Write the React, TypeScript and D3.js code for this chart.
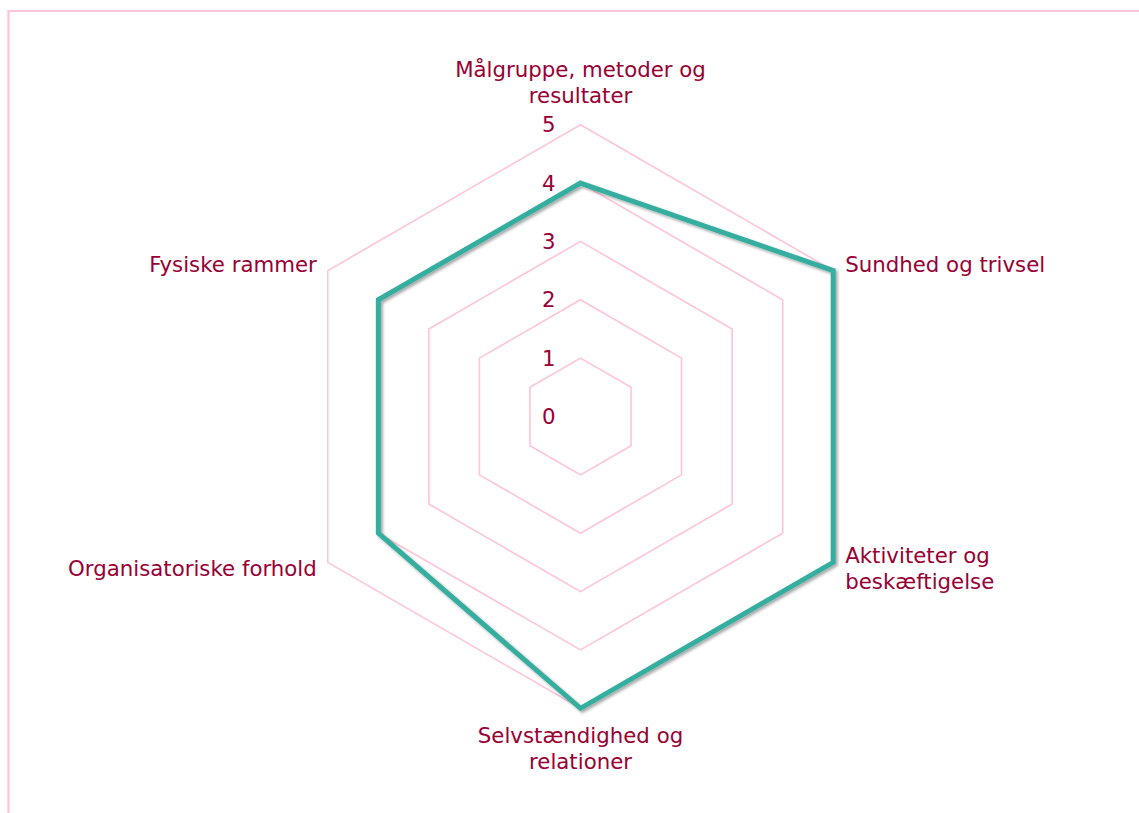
import React, { useEffect, useRef } from 'react';
import * as d3 from 'd3';

const categories = [
  ['Målgruppe, metoder og', 'resultater'],
  ['Sundhed og trivsel'],
  ['Aktiviteter og', 'beskæftigelse'],
  ['Selvstændighed og', 'relationer'],
  ['Organisatoriske forhold'],
  ['Fysiske rammer'],
];
const scores = [4, 5, 5, 5, 4, 4];
const levels = [1, 2, 3, 4, 5];
const tickLabels = [0, 1, 2, 3, 4, 5];

const RadarChart = () => {
  const ref = useRef(null);

  useEffect(() => {
    const svg = d3.select(ref.current);
    svg.selectAll('*').remove();

    const cx = 580.5, cy = 416.5, maxR = 291.8;
    const n = categories.length;
    const r = d3.scaleLinear().domain([0, 5]).range([0, maxR]);
    const ang = (i) => (i * 2 * Math.PI) / n;
    const textColor = '#990033';
    const font = '"DejaVu Sans", sans-serif';
    const fs = 21.3;

    // frame
    svg.append('path')
      .attr('d', 'M8.5,813 L8.5,11 L1139,11')
      .attr('fill', 'none')
      .attr('stroke', '#ffc4d6')
      .attr('stroke-width', 2.2);

    const defs = svg.append('defs');
    defs.append('filter').attr('id', 'shadow')
      .attr('x', '-10%').attr('y', '-10%').attr('width', '120%').attr('height', '120%')
      .append('feDropShadow')
      .attr('dx', 2).attr('dy', 2).attr('stdDeviation', 1.8)
      .attr('flood-color', '#000').attr('flood-opacity', 0.35);

    const g = svg.append('g').attr('transform', `translate(${cx},${cy})`);

    const radial = d3.lineRadial()
      .angle((d, i) => ang(i))
      .radius((d) => r(d))
      .curve(d3.curveLinearClosed);

    // grid hexagons
    levels.forEach((lv) => {
      g.append('path')
        .attr('d', radial(d3.range(n).map(() => lv)))
        .attr('fill', 'none')
        .attr('stroke', '#ffc4d6')
        .attr('stroke-width', 1.6);
    });

    // tick labels
    tickLabels.forEach((t) => {
      g.append('text')
        .attr('x', -25)
        .attr('y', -r(t))
        .attr('dy', '0.36em')
        .attr('text-anchor', 'end')
        .attr('fill', textColor)
        .attr('font-family', font)
        .attr('font-size', fs)
        .text(t);
    });

    // data polygon
    g.append('path')
      .attr('d', radial(scores))
      .attr('fill', 'none')
      .attr('stroke', '#35ae9f')
      .attr('stroke-width', 5)
      .attr('stroke-linejoin', 'miter')
      .attr('filter', 'url(#shadow)');

    // category labels
    const lh = 26;
    categories.forEach((lines, i) => {
      const a = ang(i);
      const vx = maxR * Math.sin(a);
      const vy = -maxR * Math.cos(a);
      const t = g.append('text')
        .attr('fill', textColor)
        .attr('font-family', font)
        .attr('font-size', fs);
      let x = vx, y0;
      if (Math.abs(Math.sin(a)) < 0.01) {
        t.attr('text-anchor', 'middle');
        if (Math.cos(a) > 0) y0 = vy - 22 - (lines.length - 1) * lh;
        else y0 = vy + 35;
      } else {
        const right = Math.sin(a) > 0;
        t.attr('text-anchor', right ? 'start' : 'end');
        x = vx + (right ? 12 : -11);
        const mid = vy + (Math.cos(a) > 0 ? -6 : 7);
        y0 = mid - ((lines.length - 1) * lh) / 2 + 7;
      }
      lines.forEach((ln, k) => {
        t.append('tspan').attr('x', x).attr('y', y0 + k * lh).text(ln);
      });
    });
  }, []);

  return (
    <svg
      ref={ref}
      width={1139}
      height={813}
      style={{ position: 'absolute', left: 0, top: 0, background: '#fff' }}
    />
  );
};

export default function App() {
  return <RadarChart />;
}
